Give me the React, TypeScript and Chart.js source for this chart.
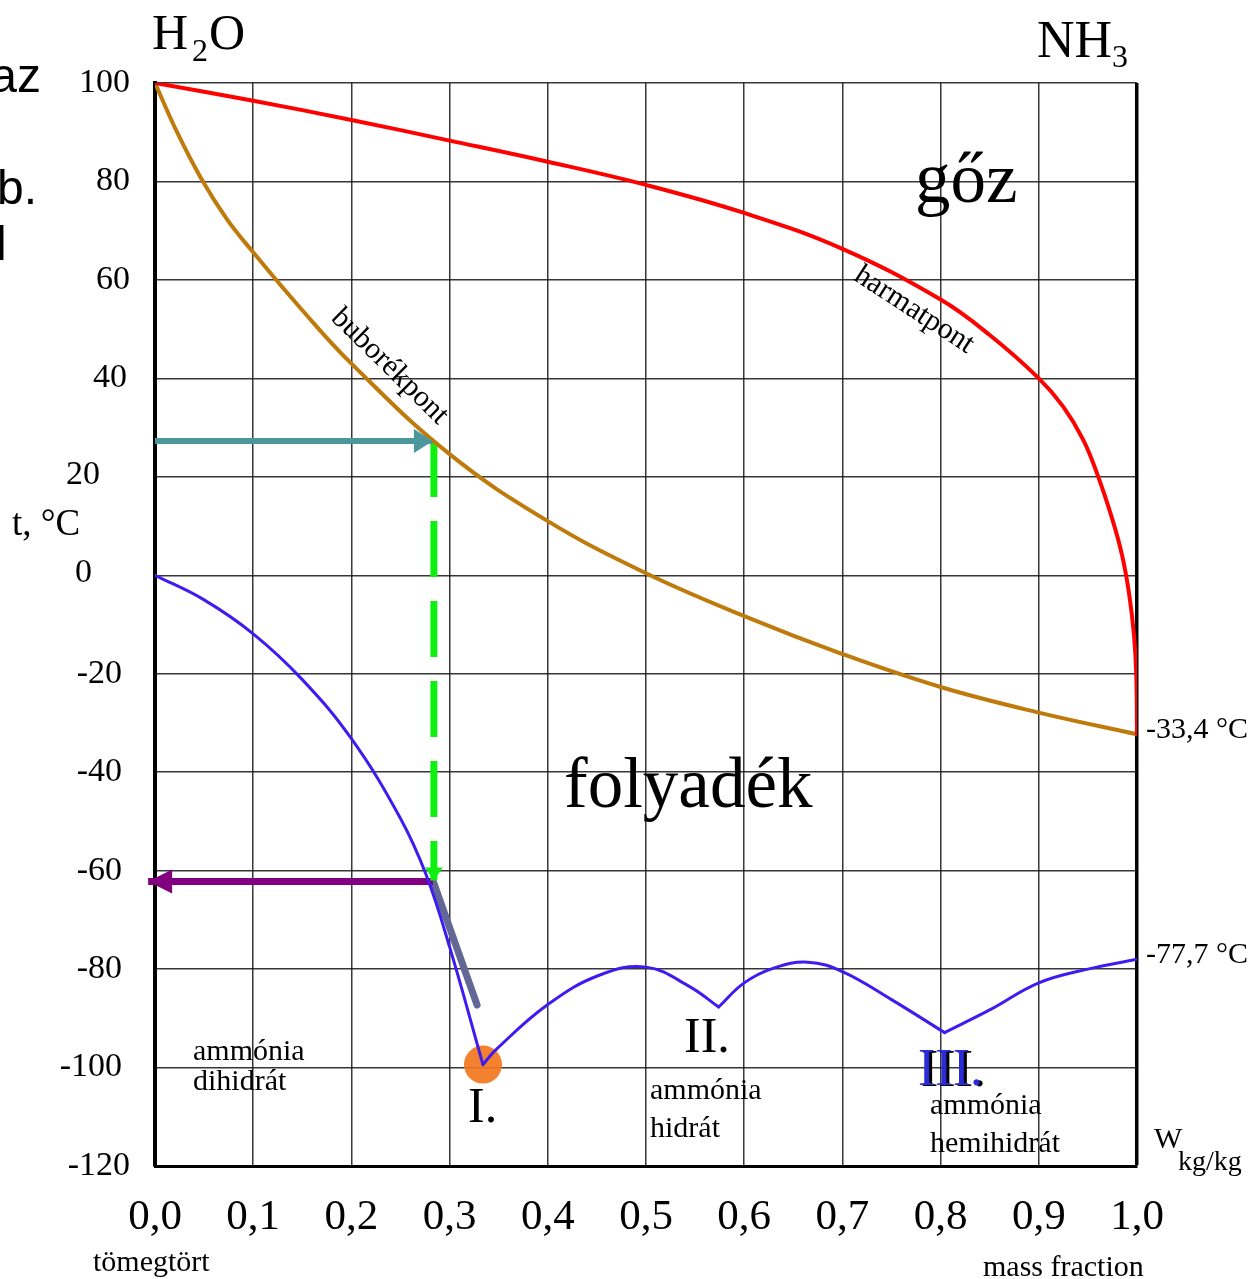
import React, { useEffect, useRef } from 'react';
import { Chart, registerables } from 'chart.js';

Chart.register(...registerables);

// ---- data (mass fraction of NH3, temperature °C) ----
const dewX = [0, 0.1, 0.2, 0.3, 0.4, 0.5, 0.6, 0.7, 0.8, 0.85, 0.9, 0.925, 0.945, 0.96, 0.975, 0.985, 0.992, 0.997, 0.9993, 1.0];
const dewT = [100, 96.4, 92.5, 88.3, 84.0, 79.3, 73.6, 66.3, 56.0, 48.8, 40, 34.2, 27.6, 20.3, 11.3, 3.9, -3.8, -12.3, -20.4, -32.3];

const bubbleX = [0, 0.022, 0.047, 0.073, 0.1, 0.148, 0.2, 0.3, 0.4, 0.5, 0.6, 0.7, 0.8, 0.9, 1.0];
const bubbleT = [100, 90.2, 80.6, 72.4, 65.6, 54.3, 43, 24.6, 11, 0.4, -8.3, -16, -22.7, -27.9, -32.3];

const freeze1X = [0, 0.05, 0.1, 0.15, 0.2, 0.25, 0.276, 0.3, 0.334];
const freeze1T = [0, -5.0, -11.9, -21.2, -33.2, -49.4, -60.8, -75.5, -99.4];
const freeze2X = [0.334, 0.347, 0.4, 0.453, 0.5, 0.544, 0.574];
const freeze2T = [-99.4, -96.4, -87.2, -81.2, -79.6, -83.5, -87.7];
const freeze3X = [0.574, 0.6, 0.63, 0.665, 0.7, 0.75, 0.804];
const freeze3T = [-87.7, -82.8, -79.8, -78.6, -80.5, -86.2, -92.9];
const freeze4X = [0.804, 0.85, 0.9, 0.95, 1.0];
const freeze4T = [-92.9, -88.3, -82.8, -80, -78];

// construction lines
const tealX = [0, 0.283];
const tealT = [27.3, 27.3];
const greenX = [0.284, 0.284];
const greenT = [27.3, -62];
const purpleX = [0.283, -0.007];
const purpleT = [-62.2, -62.2];
const grayX = [0.283, 0.328];
const grayT = [-62, -87.3];
const eutecticX = [0.334];
const eutecticT = [-99.4];

const xTickValues = [0, 0.1, 0.2, 0.3, 0.4, 0.5, 0.6, 0.7, 0.8, 0.9, 1.0];
const xTickLabels = ['0,0', '0,1', '0,2', '0,3', '0,4', '0,5', '0,6', '0,7', '0,8', '0,9', '1,0'];
const yTickValues = [100, 80, 60, 40, 20, 0, -20, -40, -60, -80, -100, -120];
const yTickLabels = ['100', '80', '60', '40', '20', '0', '-20', '-40', '-60', '-80', '-100', '-120'];

const SERIF = '"Liberation Serif", "Times New Roman", serif';
const SANS = '"Liberation Sans", Arial, sans-serif';

const pts = (xs: number[], ys: number[]) => xs.map((x, i) => ({ x, y: ys[i] }));

function text(ctx: CanvasRenderingContext2D, s: string, x: number, y: number, size: number,
  align: CanvasTextAlign = 'left', color = '#000', family = SERIF, baseline: CanvasTextBaseline = 'alphabetic') {
  ctx.save();
  ctx.font = `${size}px ${family}`;
  ctx.fillStyle = color;
  ctx.textAlign = align;
  ctx.textBaseline = baseline;
  ctx.fillText(s, x, y);
  ctx.restore();
}

function arrowHead(ctx: CanvasRenderingContext2D, x1: number, y1: number, x2: number, y2: number,
  len: number, width: number, color: string) {
  const a = Math.atan2(y2 - y1, x2 - x1);
  ctx.save();
  ctx.translate(x2, y2);
  ctx.rotate(a);
  ctx.beginPath();
  ctx.moveTo(0, 0);
  ctx.lineTo(-len, -width / 2);
  ctx.lineTo(-len, width / 2);
  ctx.closePath();
  ctx.fillStyle = color;
  ctx.fill();
  ctx.restore();
}

const arrowPlugin = {
  id: 'arrowHeads',
  afterDatasetsDraw(chart: any) {
    const { ctx, scales } = chart;
    const X = (v: number) => scales.x.getPixelForValue(v);
    const Y = (v: number) => scales.y.getPixelForValue(v);
    arrowHead(ctx, X(tealX[0]), Y(tealT[0]), X(tealX[1]), Y(tealT[1]), 19, 24, '#4b979b');
    arrowHead(ctx, X(purpleX[0]), Y(purpleT[0]), X(purpleX[1]), Y(purpleT[1]), 24, 24, '#800080');
    arrowHead(ctx, X(greenX[0]), Y(greenT[0]), X(greenX[1]), Y(greenT[1]), 13, 18, '#11ee11');
  },
};

const labelPlugin = {
  id: 'labels',
  afterDraw(chart: any) {
    const { ctx, scales, chartArea } = chart;
    const X = (v: number) => scales.x.getPixelForValue(v);
    const Y = (v: number) => scales.y.getPixelForValue(v);

    // x tick labels
    xTickValues.forEach((v, i) => {
      text(ctx, xTickLabels[i], X(v), chartArea.bottom + 63, 43, 'center');
    });
    // y tick labels
    yTickValues.forEach((v, i) => {
      let right = chartArea.left - 25;
      let dy = 0;
      if (v === 20) { right = chartArea.left - 55; dy = -2; }
      else if (v === 0) { right = chartArea.left - 63; dy = -2; }
      else if (v === 40) right = chartArea.left - 28;
      else if (v < 0 && v > -120) right = chartArea.left - 33;
      text(ctx, yTickLabels[i], right, Y(v) + dy, 34, 'right', '#000', SERIF, 'middle');
    });

    // axis captions
    text(ctx, 't, °C', 12, 535, 37);
    text(ctx, 'tömegtört', 93, 1271, 30);
    text(ctx, 'mass fraction', 983, 1276, 30);
    text(ctx, 'W', 1154, 1148, 30);
    text(ctx, 'kg/kg', 1178, 1170, 28);
    text(ctx, '-33,4 °C', 1146, 738, 30);
    text(ctx, '-77,7 °C', 1146, 963, 30);

    // components
    text(ctx, 'H', 152, 49, 50);
    text(ctx, '2', 192, 61, 32);
    text(ctx, 'O', 209, 49, 50);
    text(ctx, 'NH', 1037, 57, 52);
    text(ctx, '3', 1112, 67, 32);

    // regions
    text(ctx, 'gőz', 915, 202, 71);
    text(ctx, 'folyadék', 564, 807, 71);

    // hydrates
    text(ctx, 'ammónia', 193, 1060, 30);
    text(ctx, 'dihidrát', 193, 1090, 30);
    text(ctx, 'ammónia', 650, 1099, 30);
    text(ctx, 'hidrát', 650, 1137, 30);
    text(ctx, 'ammónia', 930, 1114, 30);
    text(ctx, 'hemihidrát', 930, 1152, 30);
    text(ctx, 'I.', 468, 1122, 50);
    text(ctx, 'II.', 684, 1052, 50);
    text(ctx, 'III.', 921, 1086, 52, 'left', '#000');
    text(ctx, 'III.', 918, 1085, 52, 'left', '#2b2bd8');

    // rotated curve labels
    ctx.save();
    ctx.translate(X(0.239), Y(42.4));
    ctx.rotate((44.5 * Math.PI) / 180);
    text(ctx, 'buborékpont', 0, 0, 30, 'center', '#000', SERIF, 'middle');
    ctx.restore();
    ctx.save();
    ctx.translate(X(0.773), Y(53.9));
    ctx.rotate((33 * Math.PI) / 180);
    text(ctx, 'harmatpont', 0, 0, 30, 'center', '#000', SERIF, 'middle');
    ctx.restore();

    // cut-off slide text at the left edge
    text(ctx, 'az', 41, 92, 48, 'right', '#000', SANS);
    text(ctx, 'b.', 37, 204, 48, 'right', '#000', SANS);
    text(ctx, 'l', -4, 260, 48, 'left', '#000', SANS);
  },
};

const curve = (data: any[], color: string, width: number) => ({
  data,
  borderColor: color,
  borderWidth: width,
  pointRadius: 0,
  fill: false,
  tension: 0.4,
  borderCapStyle: 'round' as const,
  borderJoinStyle: 'round' as const,
});

export default function App() {
  const ref = useRef<HTMLCanvasElement>(null);
  useEffect(() => {
    const gridColor = 'rgba(20,20,20,0.85)';
    const chart = new Chart(ref.current!, {
      type: 'line',
      data: {
        datasets: [
          curve(pts(dewX, dewT), '#ff0000', 4),
          curve(pts(bubbleX, bubbleT), '#bf7a0c', 4),
          curve(pts(freeze1X, freeze1T), '#3c1cf0', 3),
          curve(pts(freeze2X, freeze2T), '#3c1cf0', 3),
          curve(pts(freeze3X, freeze3T), '#3c1cf0', 3),
          curve(pts(freeze4X, freeze4T), '#3c1cf0', 3),
          { data: pts(tealX, tealT), borderColor: '#4b979b', borderWidth: 6, pointRadius: 0, clip: false as any, borderCapStyle: 'butt' as const },
          { data: pts(greenX, greenT), borderColor: '#11ee11', borderWidth: 7, pointRadius: 0, clip: false as any, borderDash: [56, 24] },
          { data: pts(purpleX, purpleT), borderColor: '#800080', borderWidth: 7, pointRadius: 0, clip: false as any },
          { data: pts(grayX, grayT), borderColor: '#636796', borderWidth: 7, pointRadius: 0, borderCapStyle: 'round' as const },
          {
            type: 'scatter' as const,
            data: pts(eutecticX, eutecticT),
            pointRadius: 19,
            pointBackgroundColor: 'rgba(242,118,30,0.92)',
            pointBorderWidth: 0,
            showLine: false,
          } as any,
        ],
      },
      options: {
        responsive: false,
        animation: false,
        events: [],
        layout: { padding: { left: 155, right: 115, top: 83, bottom: 113 } },
        plugins: { legend: { display: false }, tooltip: { enabled: false } },
        scales: {
          x: {
            type: 'linear',
            min: 0,
            max: 1,
            ticks: { display: false, stepSize: 0.1 },
            grid: {
              drawTicks: false,
              color: (c: any) => (Math.abs(c.tick.value - 1) < 1e-6 ? '#000' : gridColor),
              lineWidth: (c: any) => (Math.abs(c.tick.value - 1) < 1e-6 ? 3.5 : 1.5),
            },
            border: { color: '#000', width: 3 },
          },
          y: {
            type: 'linear',
            min: -120,
            max: 100,
            ticks: { display: false, stepSize: 20 },
            grid: { drawTicks: false, color: gridColor, lineWidth: 1.5 },
            border: { color: '#000', width: 4 },
          },
        },
      },
      plugins: [arrowPlugin, labelPlugin],
    });
    return () => chart.destroy();
  }, []);
  return (
    <div style={{ position: 'absolute', left: 0, top: 0, width: 1252, height: 1279, background: '#fff', overflow: 'hidden' }}>
      <canvas ref={ref} width={1252} height={1279} style={{ display: 'block' }} />
    </div>
  );
}
